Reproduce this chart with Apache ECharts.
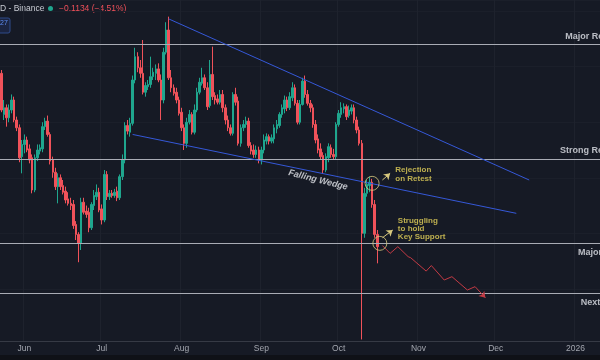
<!DOCTYPE html>
<html><head><meta charset="utf-8">
<script src="https://cdn.jsdelivr.net/npm/echarts@6/dist/echarts.min.js"></script>
<style>html,body{margin:0;padding:0;background:#161a25;overflow:hidden}#c{width:600px;height:360px}</style>
</head><body><div id="c"></div>
<script>
// ---- categories (daily, from 2025-05-23) ----
const START_UTC = Date.UTC(2025, 4, 23);
const DAY_COUNT = 233;
const categories = [];
for (let i = 0; i < DAY_COUNT; i++) categories.push(new Date(START_UTC + i * 86400000).toISOString().slice(0, 10));
const monthNames = ['Jan','Feb','Mar','Apr','May','Jun','Jul','Aug','Sep','Oct','Nov','Dec'];

// ---- daily candles [open, close, low, high], 2025-05-23 .. 2025-10-16 ----
const candles = [
[3.94,3.61,3.59,3.97],[3.57,3.63,3.52,3.70],[3.63,3.54,3.46,3.66],[3.54,3.61,3.50,3.66],[3.61,3.70,3.58,3.75],
[3.70,3.52,3.50,3.73],[3.52,3.45,3.42,3.55],[3.45,3.18,3.14,3.48],[3.19,3.30,3.04,3.34],[3.30,3.34,3.22,3.39],
[3.34,3.25,3.23,3.37],[3.26,3.16,3.13,3.30],[3.18,2.89,2.86,3.21],[2.89,3.18,2.87,3.21],[3.18,3.25,3.15,3.30],
[3.24,3.27,3.21,3.30],[3.26,3.46,3.23,3.50],[3.46,3.51,3.43,3.54],[3.51,3.39,3.37,3.56],[3.39,3.15,3.12,3.41],
[3.16,3.05,3.00,3.19],[3.05,2.92,2.89,3.09],[2.92,3.00,2.77,3.04],[3.00,2.92,2.89,3.03],[2.93,2.87,2.85,2.98],
[2.88,2.80,2.77,2.92],[2.81,2.77,2.75,2.87],[2.77,2.75,2.71,2.82],[2.76,2.57,2.54,2.80],[2.58,2.49,2.44,2.61],
[2.49,2.41,2.24,2.51],[2.41,2.78,2.35,2.82],[2.78,2.69,2.67,2.82],[2.70,2.67,2.64,2.75],[2.69,2.55,2.51,2.73],
[2.55,2.76,2.53,2.78],[2.75,2.84,2.71,2.89],[2.83,2.87,2.80,2.94],[2.87,2.71,2.69,2.91],[2.72,2.62,2.58,2.76],
[2.62,3.03,2.60,3.07],[3.03,2.83,2.80,3.06],[2.83,2.86,2.80,2.89],[2.86,2.84,2.82,2.89],[2.84,2.87,2.82,2.90],
[2.88,2.82,2.79,2.92],[2.82,3.01,2.80,3.03],[3.01,3.16,2.98,3.21],[3.16,3.47,3.13,3.50],[3.47,3.42,3.39,3.52],
[3.41,3.49,3.37,3.54],[3.49,3.88,3.47,3.92],[3.88,4.09,3.85,4.17],[4.09,3.99,3.95,4.13],[3.99,3.94,3.90,4.06],
[3.94,3.77,3.75,4.24],[3.77,3.83,3.73,3.86],[3.82,3.84,3.79,3.88],[3.84,3.91,3.81,4.09],[3.91,3.95,3.88,3.99],
[3.94,3.98,3.88,4.02],[3.98,3.88,3.86,4.03],[3.88,3.70,3.52,3.93],[3.70,4.13,3.67,4.17],[4.13,4.33,4.11,4.40],
[4.33,3.90,3.88,4.45],[3.90,3.81,3.77,3.97],[3.81,3.76,3.74,3.84],[3.77,3.70,3.67,3.81],[3.70,3.58,3.56,3.73],
[3.59,3.45,3.42,3.63],[3.45,3.31,3.25,3.48],[3.31,3.50,3.27,3.54],[3.50,3.57,3.48,3.61],[3.57,3.41,3.39,3.59],
[3.41,3.61,3.39,3.66],[3.61,3.77,3.59,3.81],[3.77,3.86,3.75,3.90],[3.85,3.90,3.83,3.99],[3.90,3.81,3.79,3.93],
[3.81,3.64,3.61,3.86],[3.65,3.93,3.63,4.06],[3.93,3.73,3.70,4.18],[3.74,3.70,3.66,3.77],[3.71,3.68,3.66,3.75],
[3.68,3.75,3.66,3.79],[3.75,3.63,3.59,3.79],[3.63,3.52,3.48,3.66],[3.52,3.45,3.42,3.56],[3.45,3.40,3.38,3.48],
[3.40,3.75,3.38,3.77],[3.75,3.68,3.65,3.81],[3.69,3.31,3.29,3.73],[3.31,3.45,3.28,3.48],[3.45,3.48,3.42,3.52],
[3.48,3.51,3.45,3.55],[3.51,3.29,3.27,3.54],[3.29,3.24,3.21,3.32],[3.25,3.21,3.18,3.30],[3.21,3.25,3.18,3.29],
[3.25,3.16,3.13,3.28],[3.16,3.25,3.12,3.28],[3.25,3.34,3.22,3.39],[3.33,3.37,3.30,3.40],[3.37,3.33,3.30,3.39],
[3.33,3.36,3.31,3.39],[3.35,3.45,3.31,3.48],[3.44,3.48,3.40,3.52],[3.47,3.57,3.45,3.59],[3.57,3.63,3.54,3.66],
[3.62,3.70,3.58,3.74],[3.70,3.63,3.60,3.73],[3.63,3.73,3.61,3.77],[3.72,3.81,3.69,3.86],[3.81,3.67,3.65,3.84],
[3.67,3.50,3.48,3.70],[3.50,3.66,3.48,3.70],[3.66,3.87,3.65,3.90],[3.87,3.75,3.72,3.92],[3.75,3.67,3.65,3.79],
[3.67,3.63,3.59,3.70],[3.63,3.48,3.45,3.66],[3.48,3.34,3.31,3.52],[3.35,3.25,3.22,3.39],[3.26,3.19,3.16,3.31],
[3.20,3.07,3.04,3.23],[3.07,3.19,3.05,3.22],[3.18,3.28,3.14,3.31],[3.27,3.21,3.18,3.30],[3.21,3.19,3.16,3.26],
[3.19,3.48,3.16,3.50],[3.48,3.58,3.46,3.61],[3.57,3.63,3.54,3.68],[3.62,3.64,3.58,3.67],[3.64,3.55,3.52,3.66],
[3.56,3.61,3.54,3.65],[3.60,3.63,3.57,3.66],[3.63,3.52,3.49,3.66],[3.52,3.43,3.40,3.55],[3.43,3.31,3.29,3.46],
[3.31,2.50,1.545,3.34],[2.50,2.86,2.46,2.91],[2.86,2.94,2.83,2.98],[2.93,2.96,2.87,3.01],[2.96,2.76,2.73,2.99],
[2.76,2.49,2.46,2.80],[2.49,2.38,2.23,2.53]
];

// ---- horizontal levels ----
const levelNames = ['Major Resistance', 'Strong Resistance', 'Major Support', 'Next Support'];
const levelValues = [4.195, 3.175, 2.41, 1.96];
const levelLabelDates = ['2025-12-28', '2025-12-26', '2026-01-02', '2026-01-03'];

// ---- wedge trend lines [date, price] ----
const upperTrend = [['2025-07-27', 4.43], ['2025-12-14', 2.98]];
const lowerTrend = [['2025-07-13', 3.39], ['2025-12-09', 2.68]];

// ---- projected path ----
const projection = [['2025-10-18',2.39],['2025-10-21',2.32],['2025-10-24',2.38],['2025-10-28',2.29],
  ['2025-10-29',2.28],['2025-11-04',2.16],['2025-11-06',2.21],['2025-11-11',2.08],['2025-11-14',2.11],
  ['2025-11-20',1.99],['2025-11-23',2.02],['2025-11-27',1.92]];

// ---- annotations ----
const circlePoints = [['2025-10-14', 2.95], ['2025-10-17', 2.41]];
const arrowRejection = [['2025-10-18', 2.98], ['2025-10-21', 3.04]];
const arrowSupport = [['2025-10-18', 2.46], ['2025-10-22', 2.53]];
const noteTexts = ['Rejection\non Retest', 'Struggling\nto hold\nKey Support'];
const notePoints = [['2025-10-23', 3.03], ['2025-10-24', 2.54]];
const wedgeText = 'Falling Wedge';
const wedgePoint = ['2025-09-23', 2.98];

const UP = '#1fa68e', DOWN = '#f0525a', NOTE = '#e6d35a', RING = '#d8c97e';
const FONT = 'Liberation Sans, Arial, sans-serif';

const chart = echarts.init(document.getElementById('c'), null, { renderer: 'canvas' });
const monthStart = (i, v) => v.slice(8) === '01';

function arrowLine(data, color, rot, z) {
  return {
    type: 'line', data: data, silent: true, z: z || 6, showAllSymbol: true,
    symbol: (v, p) => p.dataIndex === data.length - 1 ? 'arrow' : 'none',
    symbolSize: 6, symbolRotate: rot,
    lineStyle: { color: color, width: 1 }, itemStyle: { color: color }
  };
}

chart.setOption({
  animation: false,
  backgroundColor: '#161a25',
  grid: { left: 0, right: 0, top: 0, bottom: 19 },
  xAxis: {
    type: 'category', data: categories, boundaryGap: true,
    axisLine: { show: true, lineStyle: { color: '#363a45' } },
    axisTick: { show: false },
    axisLabel: { interval: monthStart, margin: 3, color: '#a3a6af', fontSize: 8.5, fontFamily: FONT,
      formatter: v => { const p = v.split('-'); return p[1] === '01' ? p[0] : monthNames[+p[1] - 1]; } },
    splitLine: { show: true, interval: monthStart, lineStyle: { color: '#1e222d', width: 1 } }
  },
  yAxis: {
    type: 'value', min: 1.531, max: 4.6, position: 'right',
    axisLine: { show: false }, axisTick: { show: false }, axisLabel: { show: false },
    splitLine: { show: true, lineStyle: { color: '#1b1f2a' } }
  },
  series: [
    {
      type: 'candlestick', data: candles, barWidth: 2, barMinWidth: 2, clip: true,
      itemStyle: { color: UP, color0: DOWN, borderColor: UP, borderColor0: DOWN, borderWidth: 1 },
      markLine: {
        silent: true, symbol: ['none', 'none'], label: { show: false }, animation: false,
        data: levelValues.map(v => ({ yAxis: v, lineStyle: { color: '#a9acb5', width: 1, type: 'solid' } }))
          .concat([
            [{ coord: upperTrend[0], lineStyle: { color: '#3558d8', width: 1, type: 'solid' } }, { coord: upperTrend[1] }],
            [{ coord: lowerTrend[0], lineStyle: { color: '#3558d8', width: 1, type: 'solid' } }, { coord: lowerTrend[1] }]
          ])
      }
    },
    arrowLine(projection, '#c23a44', -137, 5),
    arrowLine(arrowRejection, RING, -48, 7),
    arrowLine(arrowSupport, RING, -52, 7),
    {
      type: 'scatter', data: circlePoints, symbol: 'circle', symbolSize: 14, silent: true, z: 7,
      itemStyle: { color: 'rgba(0,0,0,0)', borderColor: RING, borderWidth: 1 }
    },
    {
      type: 'scatter', symbolSize: 0, silent: true, z: 8,
      data: levelNames.map((n, k) => ({ name: n, value: [levelLabelDates[k], levelValues[k]],
        label: { offset: [0, k < 2 ? -8 : 9] } })),
      label: { show: true, position: 'right', distance: 0, formatter: '{b}', color: '#e1e4ea',
        fontSize: 9, fontWeight: 'bold', fontFamily: FONT }
    },
    {
      type: 'scatter', symbolSize: 0, silent: true, z: 8,
      data: noteTexts.map((t, k) => ({ name: t, value: notePoints[k] })),
      label: { show: true, position: 'right', distance: 0, formatter: '{b}', color: NOTE,
        fontSize: 8, lineHeight: 8.4, fontWeight: 'bold', fontFamily: FONT, align: 'left' }
    },
    {
      type: 'scatter', symbolSize: 0, silent: true, z: 8,
      data: [{ name: wedgeText, value: wedgePoint }],
      label: { show: true, position: 'inside', formatter: '{b}', color: '#e6e8ee', rotate: -14,
        fontSize: 9, fontStyle: 'italic', fontWeight: 'bold', fontFamily: FONT }
    }
  ],
  graphic: [
    { type: 'rect', shape: { x: 0, y: 355, width: 600, height: 5 }, style: { fill: '#0f1117' }, silent: true },
    { type: 'text', x: 0, y: 4, style: { text: 'D - Binance', fill: '#c9ccd4', fontSize: 8.5, fontFamily: FONT } },
    { type: 'circle', shape: { cx: 50.5, cy: 8.5, r: 2.5 }, style: { fill: UP } },
    { type: 'text', x: 59, y: 4, style: { text: '\u22120.1134 (\u22124.51%)', fill: '#f0505a', fontSize: 8.5, fontFamily: FONT } },
    { type: 'rect', shape: { x: -6, y: 18, width: 16, height: 15, r: 2 }, style: { fill: '#1b2440', stroke: '#2f4a8a', lineWidth: 1 } },
    { type: 'text', x: 0, y: 20, style: { text: '27', fill: '#5d8cf2', fontSize: 7, fontFamily: FONT } }
  ]
});
</script></body></html>
